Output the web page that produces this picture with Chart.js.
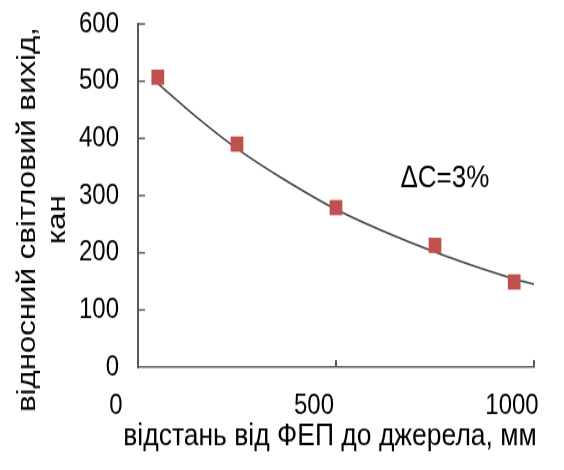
<!DOCTYPE html>
<html>
<head>
<meta charset="utf-8">
<script src="https://cdn.jsdelivr.net/npm/chart.js@4.4.0/dist/chart.umd.min.js"></script>
<style>
  html { overflow: hidden; }
  html, body { margin: 0; padding: 0; background: #fff; height: 470px; }
  /* the figure is drawn a little squat and stretched tall afterwards */
  #wrap { width: 564px; height: 392px; transform: scaleY(1.2); transform-origin: 0 0; }
  canvas { display: block; }
</style>
</head>
<body>
<div id="wrap"><canvas id="lightChart" width="564" height="392"></canvas></div>
<script>
const distances = [50, 250, 500, 750, 950];
const lightOutput = [507, 390, 279, 213, 149];

const fitDistances = [50, 150, 250, 360, 500, 660, 810, 950, 1000];
const fitOutput = [496, 436, 382, 332, 276, 226, 186, 154, 145];

const xTicks = [0, 500, 1000];
const yTicks = [0, 100, 200, 300, 400, 500, 600];

const xTitle = "відстань від ФЕП до джерела, мм";
const yTitleLines = ["відносний світловий вихід,", "кан"];
const noteText = "ΔC=3%";
const notePoint = { x: 775, y: 329 };

const FONT = "'Liberation Sans', Arial, sans-serif";
const AXIS_COLOR = "#595959";

// tick marks point into the plot, not out of it
const insideTicks = {
  id: "insideTicks",
  beforeDatasetsDraw(chart) {
    const { ctx, chartArea, scales } = chart;
    ctx.save();
    ctx.strokeStyle = AXIS_COLOR;
    ctx.lineWidth = 1.5;
    yTicks.slice(1).forEach((v) => {
      const py = scales.y.getPixelForValue(v);
      ctx.beginPath();
      ctx.moveTo(chartArea.left, py);
      ctx.lineTo(chartArea.left + 7, py);
      ctx.stroke();
    });
    ctx.lineWidth = 2;
    xTicks.slice(1).forEach((v) => {
      const px = scales.x.getPixelForValue(v);
      ctx.beginPath();
      ctx.moveTo(px, chartArea.bottom);
      ctx.lineTo(px, chartArea.bottom - 6);
      ctx.stroke();
    });
    ctx.restore();
  },
};

// axis titles drawn by hand: the x title is wider than the axis,
// the y title has two lines and sits a bit below the middle
const axisTitles = {
  id: "axisTitles",
  afterDraw(chart) {
    const { ctx, chartArea } = chart;
    ctx.save();
    ctx.fillStyle = "#000";
    ctx.textAlign = "center";
    ctx.textBaseline = "middle";

    ctx.font = "26.5px " + FONT;
    ctx.fillText(xTitle, (chartArea.left + chartArea.right) / 2 - 6, chartArea.bottom + 58);

    ctx.font = "26px " + FONT;
    ctx.translate(28, (chartArea.top + chartArea.bottom) / 2 + 20);
    ctx.rotate(-Math.PI / 2);
    yTitleLines.forEach((line, i) => {
      ctx.fillText(line, 0, i * 30);
    });
    ctx.restore();
  },
};

const note = {
  id: "note",
  afterDatasetsDraw(chart) {
    const { ctx, scales } = chart;
    ctx.save();
    ctx.fillStyle = "#000";
    ctx.font = "26px " + FONT;
    ctx.textAlign = "center";
    ctx.textBaseline = "middle";
    ctx.fillText(
      noteText,
      scales.x.getPixelForValue(notePoint.x),
      scales.y.getPixelForValue(notePoint.y)
    );
    ctx.restore();
  },
};

// spacing between labels and axis comes from an invisible tick,
// so it does not also get added to the plot padding
const hiddenTick = (len) => ({
  display: true,
  drawOnChartArea: false,
  drawTicks: true,
  tickLength: len,
  tickColor: "rgba(0,0,0,0)",
});

const ctx = document.getElementById("lightChart").getContext("2d");
const lightChart = new Chart(ctx, {
  type: "scatter",
  data: {
    datasets: [
      {
        label: "вимір",
        data: distances.map((d, i) => ({ x: d, y: lightOutput[i] })),
        pointStyle: "rect",
        pointRadius: 9,
        pointBackgroundColor: "#C0504D",
        pointBorderColor: "#C0504D",
        pointBorderWidth: 0,
        showLine: false,
      },
      {
        label: "апроксимація",
        data: fitDistances.map((d, i) => ({ x: d, y: fitOutput[i] })),
        showLine: true,
        borderColor: "#404040",
        borderWidth: 1.5,
        tension: 0.3,
        pointRadius: 0,
      },
    ],
  },
  options: {
    responsive: false,
    animation: false,
    layout: {
      padding: { top: 20, right: 30, left: 0, bottom: 0 },
    },
    plugins: {
      legend: { display: false },
      tooltip: { enabled: false },
    },
    scales: {
      x: {
        type: "linear",
        min: 0,
        max: 1000,
        afterBuildTicks: (scale) => {
          scale.ticks = xTicks.map((v) => ({ value: v }));
        },
        afterFit: (scale) => {
          scale.height = 86;
        },
        grid: hiddenTick(18),
        border: { display: true, color: AXIS_COLOR, width: 1.5 },
        ticks: {
          color: "#000",
          font: { family: FONT, size: 24 },
          padding: 0,
          labelOffset: -22,
          maxRotation: 0,
          autoSkip: false,
          callback: (v) => String(v),
        },
      },
      y: {
        type: "linear",
        min: 0,
        max: 600,
        afterBuildTicks: (scale) => {
          scale.ticks = yTicks.map((v) => ({ value: v }));
        },
        afterFit: (scale) => {
          scale.width = 138;
        },
        grid: hiddenTick(19),
        border: { display: true, color: AXIS_COLOR, width: 2 },
        ticks: {
          color: "#000",
          font: { family: FONT, size: 24 },
          padding: 0,
          callback: (v) => String(v),
        },
      },
    },
  },
  plugins: [insideTicks, axisTitles, note],
});
</script>
</body>
</html>
